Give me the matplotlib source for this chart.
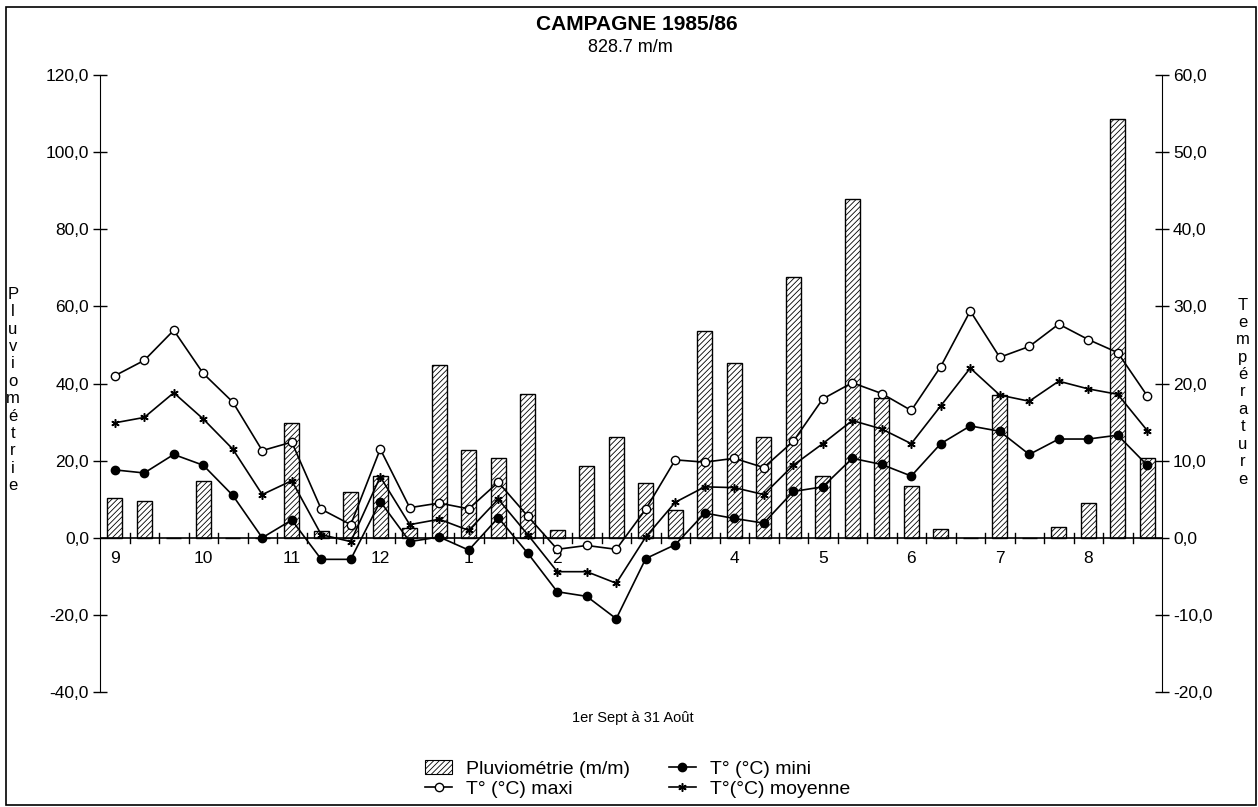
import numpy as np
import matplotlib
matplotlib.use('Agg')
import matplotlib.pyplot as plt
from matplotlib import rcParams
from matplotlib.lines import Line2D
from matplotlib.patches import Patch, Rectangle

rcParams['font.family'] = ['Liberation Sans', 'DejaVu Sans']
rcParams['hatch.linewidth'] = 0.6

# decades from 1 Sept to 31 Aug (36 x 10 days)
pluvio = [10.3, 9.5, 0, 14.7, 0, 0, 29.7, 1.7, 11.8, 16.1,
          2.5, 44.8, 22.7, 20.8, 37.4, 1.9, 18.6, 26.0, 14.1, 7.2,
          53.6, 45.4, 26.0, 67.5, 15.9, 87.8, 36.2, 13.5, 2.2, 0,
          36.9, 0, 2.8, 9.0, 108.5, 20.7]
t_maxi = [21.0, 23.0, 26.9, 21.3, 17.6, 11.3, 12.4, 3.7, 1.7, 11.5,
          3.9, 4.5, 3.75, 7.2, 2.8, -1.5, -1.0, -1.5, 3.7, 10.1,
          9.8, 10.3, 9.1, 12.5, 18.0, 20.1, 18.7, 16.5, 22.2, 29.4,
          23.4, 24.8, 27.7, 25.7, 24.0, 18.4]
t_moy = [14.9, 15.6, 18.8, 15.4, 11.5, 5.6, 7.4, 0.4, -0.5, 7.9,
         1.7, 2.4, 0.95, 5.0, 0.4, -4.4, -4.4, -5.9, 0.1, 4.6,
         6.6, 6.5, 5.6, 9.4, 12.2, 15.2, 14.1, 12.2, 17.1, 22.0,
         18.5, 17.7, 20.3, 19.3, 18.6, 13.9]
t_mini = [8.8, 8.4, 10.8, 9.4, 5.5, 0.0, 2.3, -2.8, -2.8, 4.7,
          -0.5, 0.1, -1.6, 2.6, -2.0, -7.0, -7.6, -10.5, -2.7, -0.9,
          3.2, 2.5, 1.9, 6.0, 6.6, 10.3, 9.5, 8.0, 12.2, 14.5,
          13.8, 10.8, 12.8, 12.8, 13.3, 9.4]
mois = ['9', '10', '11', '12', '1', '2', '', '4', '5', '6', '7', '8']

x = np.arange(len(pluvio))

fig = plt.figure(figsize=(12.58, 8.07), dpi=100)
ax = fig.add_axes([100/1258, 115/807, 1062/1258, 617/807])
ax2 = ax.twinx()

ax.bar(x, pluvio, width=0.5, color='white', edgecolor='black',
       hatch='//////', linewidth=1.0)

ax.set_xlim(-0.5, 35.5)
ax.set_ylim(-40, 120)
ax2.set_ylim(-20, 60)

for a in (ax, ax2):
    a.spines['top'].set_visible(False)
    a.spines['bottom'].set_visible(False)
ax.spines['right'].set_visible(False)
ax2.spines['left'].set_visible(False)

ax.set_yticks(np.arange(-40, 121, 20))
ax.set_yticklabels([('%.1f' % v).replace('.', ',') for v in np.arange(-40, 121, 20)])
ax2.set_yticks(np.arange(-20, 61, 10))
ax2.set_yticklabels([('%.1f' % v).replace('.', ',') for v in np.arange(-20, 61, 10)])
ax.tick_params(axis='y', direction='inout', length=10, width=1, labelsize=12.5, pad=3)
ax2.tick_params(axis='y', direction='inout', length=10, width=1, labelsize=12.5, pad=3)

# zero line with decade ticks
ax.axhline(0, color='black', lw=1.2, zorder=1)
ax.set_xticks([])
for b in np.arange(0.5, 35.5, 1):
    ax.plot([b, b], [-1.3, 1.3], color='black', lw=1, zorder=1)
for i, m in enumerate(mois):
    ax.text(3 * i, -5.5, m, ha='center', va='center', fontsize=12.5)

kw = dict(color='black', lw=1.2, markersize=6)
ax2.plot(x, t_maxi, marker='o', markerfacecolor='white', **kw)
ax2.plot(x, t_mini, marker='o', markerfacecolor='black', **kw)
ax2.plot(x, t_moy, marker=(6, 2, 0), markeredgewidth=1.1, **kw)

fig.text(637/1258, 1 - 25/807, 'CAMPAGNE 1985/86', ha='center', va='center',
         fontsize=15, fontweight='bold')
fig.text(630/1258, 1 - 47/807, '828.7 m/m', ha='center', va='center', fontsize=13)
fig.text(633/1258, 1 - 718/807, '1er Sept à 31 Août', ha='center', va='center', fontsize=10.5)
fig.text(13/1258, 1 - 390/807, '\n'.join('Pluviométrie'), ha='center', va='center',
         fontsize=12, linespacing=1.2)
fig.text(1243/1258, 1 - 392/807, '\n'.join('Température'), ha='center', va='center',
         fontsize=12, linespacing=1.2)

handles = [
    Patch(facecolor='white', edgecolor='black', hatch='//////', lw=0.8),
    Line2D([], [], marker='o', markerfacecolor='white', **kw),
    Line2D([], [], marker='o', markerfacecolor='black', **kw),
    Line2D([], [], marker=(6, 2, 0), markeredgewidth=1.1, **kw),
]
labels = ['Pluviométrie (m/m)', 'T° (°C) maxi', 'T° (°C) mini', 'T°(°C) moyenne']
fig.legend(handles, labels, loc='upper left', bbox_to_anchor=(425/1258, 1 - 760/807),
           ncol=2, frameon=False, fontsize=14, handlelength=1.4, handletextpad=0.7,
           columnspacing=2.0, labelspacing=0.15, borderpad=0, borderaxespad=0)

# page frame
fig.patches.append(Rectangle((6/1258, 2/807), 1250/1258, 798/807, transform=fig.transFigure,
                             fill=False, edgecolor='black', lw=1.2))

fig.savefig('out.png', dpi=100)
